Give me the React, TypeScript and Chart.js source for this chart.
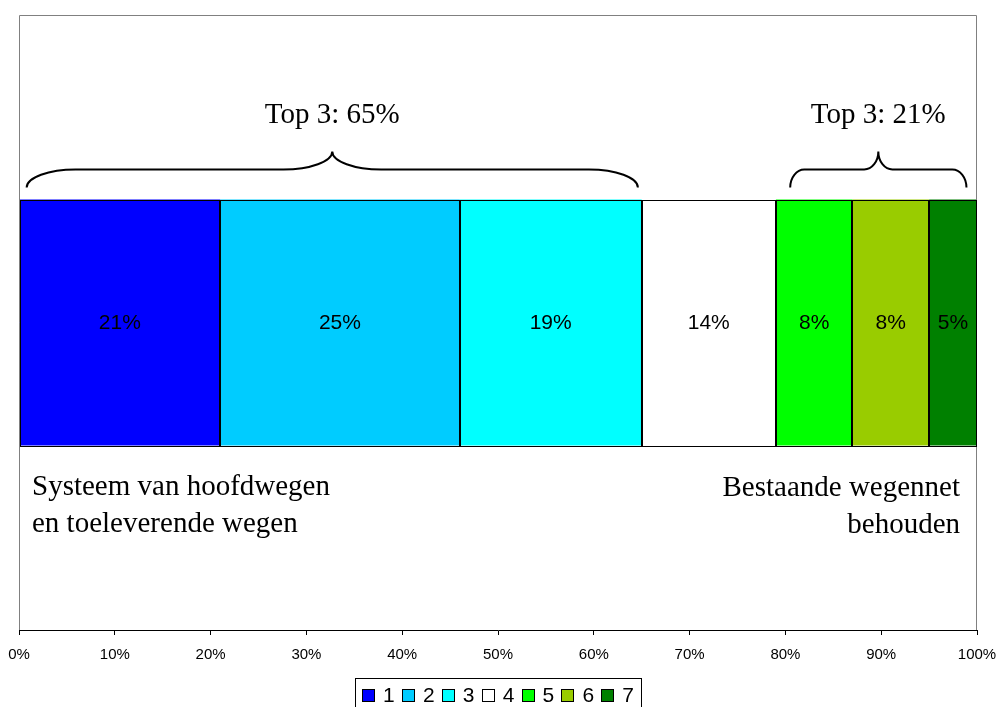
import React, { useEffect, useRef } from 'react';
import { Chart, registerables } from 'chart.js';

Chart.register(...registerables);

const categories = [''];
const seriesLabels = ['1', '2', '3', '4', '5', '6', '7'];
const seriesValues = [21, 25, 19, 14, 8, 8, 5];
const seriesColors = ['#0000FF', '#00CCFF', '#00FFFF', '#FFFFFF', '#00FF00', '#99CC00', '#008000'];
const xTickStep = 10;
const braceLabels = ['Top 3: 65%', 'Top 3: 21%'];
const braceStarts = [0.8, 80.5];
const braceEnds = [64.6, 98.9];
const leftNote = ['Systeem van hoofdwegen', 'en toeleverende wegen'];
const rightNote = ['Bestaande wegennet', 'behouden'];

const SANS = "'Liberation Sans', Arial, Helvetica, sans-serif";
const SERIF = "'Liberation Serif', 'Times New Roman', Times, serif";

function drawBrace(ctx: CanvasRenderingContext2D, x0: number, x1: number, yb: number, ym: number, yt: number) {
  const w = x1 - x0;
  const xc = (x0 + x1) / 2;
  const r = w * 0.08;
  const k = 0.55;
  ctx.beginPath();
  ctx.moveTo(x0, yb);
  ctx.bezierCurveTo(x0, yb - k * (yb - ym), x0 + r - k * r, ym, x0 + r, ym);
  ctx.lineTo(xc - r, ym);
  ctx.bezierCurveTo(xc - r + k * r, ym, xc, yt + k * (ym - yt), xc, yt);
  ctx.bezierCurveTo(xc, yt + k * (ym - yt), xc + r - k * r, ym, xc + r, ym);
  ctx.lineTo(x1 - r, ym);
  ctx.bezierCurveTo(x1 - r + k * r, ym, x1, yb - k * (yb - ym), x1, yb);
  ctx.stroke();
}

const annotationPlugin = {
  id: 'annotations',
  afterDatasetsDraw(chart: any) {
    const ctx: CanvasRenderingContext2D = chart.ctx;
    const area = chart.chartArea;
    const xScale = chart.scales.x;
    ctx.save();
    // plot area border (top, left, right)
    ctx.strokeStyle = '#808080';
    ctx.lineWidth = 1;
    ctx.beginPath();
    ctx.moveTo(Math.round(area.left) + 0.5, Math.round(area.bottom));
    ctx.lineTo(Math.round(area.left) + 0.5, Math.round(area.top) + 0.5);
    ctx.lineTo(Math.round(area.right) - 0.5, Math.round(area.top) + 0.5);
    ctx.lineTo(Math.round(area.right) - 0.5, Math.round(area.bottom));
    ctx.stroke();

    // crisp bar outlines
    let barTop = 0;
    let barBottom = 0;
    ctx.strokeStyle = '#000';
    ctx.lineWidth = 1;
    chart.data.datasets.forEach((ds: any, i: number) => {
      const el = chart.getDatasetMeta(i).data[0];
      if (!el) return;
      barTop = el.y - el.height / 2;
      barBottom = el.y + el.height / 2;
      const l = Math.round(Math.min(el.base, el.x));
      const r = Math.round(Math.max(el.base, el.x));
      const t = Math.round(barTop);
      const b = Math.round(barBottom);
      ctx.strokeRect(l + 0.5, t + 0.5, r - l - 1, b - t);
    });

    // bar value labels
    ctx.fillStyle = '#000';
    ctx.font = `21px ${SANS}`;
    ctx.textAlign = 'center';
    ctx.textBaseline = 'middle';
    chart.data.datasets.forEach((ds: any, i: number) => {
      const el = chart.getDatasetMeta(i).data[0];
      if (!el) return;
      const c = el.getCenterPoint();
      ctx.fillText(ds.data[0] + '%', c.x, c.y + 1);
    });

    // braces
    ctx.strokeStyle = '#000';
    ctx.lineWidth = 2;
    ctx.font = `29px ${SERIF}`;
    ctx.textBaseline = 'alphabetic';
    braceLabels.forEach((label, i) => {
      const x0 = xScale.getPixelForValue(braceStarts[i]);
      const x1 = xScale.getPixelForValue(braceEnds[i]);
      drawBrace(ctx, x0, x1, barTop - 12, barTop - 30, barTop - 48);
      ctx.textAlign = 'center';
      ctx.fillText(label, (x0 + x1) / 2, barTop - 77);
    });

    // notes under the bar
    ctx.textAlign = 'left';
    leftNote.forEach((line, j) => {
      ctx.fillText(line, area.left + 13, barBottom + 49 + j * 37);
    });
    ctx.textAlign = 'right';
    rightNote.forEach((line, j) => {
      ctx.fillText(line, area.right - 17, barBottom + 50 + j * 37);
    });
    ctx.restore();
  },
  afterDraw(chart: any) {
    const ctx: CanvasRenderingContext2D = chart.ctx;
    ctx.save();
    ctx.font = `21px ${SANS}`;
    const pad = 7;
    const box = 13;
    const gap = 8;
    const spacing = 7.2;
    const items = chart.data.datasets.map((ds: any) => ({
      text: ds.label,
      color: ds.backgroundColor,
      w: ctx.measureText(ds.label).width,
    }));
    let total = pad * 2;
    items.forEach((it: any, i: number) => {
      total += box + gap + it.w + (i < items.length - 1 ? spacing : 0);
    });
    const left = Math.round(chart.width / 2 - total / 2) - 1;
    const top = 678;
    ctx.strokeStyle = '#000';
    ctx.lineWidth = 1;
    ctx.strokeRect(left + 0.5, top + 0.5, Math.round(total), 32);
    let x = left + pad;
    ctx.textBaseline = 'alphabetic';
    ctx.textAlign = 'left';
    items.forEach((it: any) => {
      const bx = Math.round(x);
      ctx.fillStyle = it.color;
      ctx.fillRect(bx, top + 11, box, box);
      ctx.strokeStyle = '#000';
      ctx.strokeRect(bx + 0.5, top + 11.5, box - 1, box - 1);
      ctx.fillStyle = '#000';
      ctx.fillText(it.text, x + box + gap, top + 24);
      x += box + gap + it.w + spacing;
    });
    ctx.restore();
  },
};

export default function App() {
  const canvasRef = useRef<HTMLCanvasElement | null>(null);

  useEffect(() => {
    if (!canvasRef.current) return;
    const datasets = seriesLabels.map((label, i) => ({
      label,
      data: [seriesValues[i]],
      backgroundColor: seriesColors[i],
      borderWidth: 0,
      barPercentage: 0.4,
      categoryPercentage: 1,
    }));
    const chart = new Chart(canvasRef.current, {
      type: 'bar',
      data: { labels: categories, datasets: datasets as any },
      options: {
        indexAxis: 'y',
        responsive: false,
        animation: false,
        layout: { padding: { top: 15, left: 19, right: 20, bottom: 42 } },
        plugins: {
          legend: { display: false },
          tooltip: { enabled: false },
        },
        scales: {
          x: {
            stacked: true,
            min: 0,
            max: 100,
            position: 'bottom',
            ticks: {
              stepSize: xTickStep,
              autoSkip: false,
              maxRotation: 0,
              padding: 11,
              color: '#000',
              font: { family: SANS, size: 15 },
              callback: (v: any) => v + '%',
            },
            grid: { drawOnChartArea: false, drawTicks: true, tickLength: 5, tickColor: '#000' },
            border: { color: '#000', width: 1 },
            afterFit: (s: any) => {
              s.height = 40;
              s.paddingLeft = 0;
              s.paddingRight = 0;
            },
          },
          y: { stacked: true, display: false },
        },
      } as any,
      plugins: [annotationPlugin],
    });
    return () => chart.destroy();
  }, []);

  return (
    <div style={{ position: 'fixed', left: 0, top: 0, width: 997, height: 712, background: '#fff' }}>
      <canvas ref={canvasRef} width={997} height={712} style={{ display: 'block', width: 997, height: 712 }} />
    </div>
  );
}
